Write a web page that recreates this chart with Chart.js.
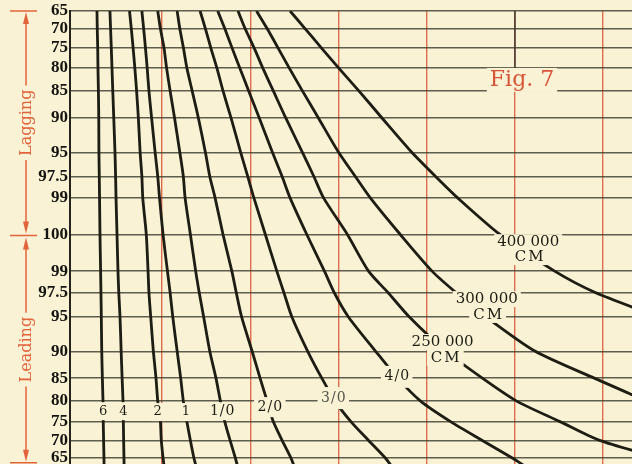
<!DOCTYPE html>
<html>
<head>
<meta charset="utf-8">
<script src="https://cdn.jsdelivr.net/npm/chart.js@4.4.1/dist/chart.umd.min.js"></script>
<style>
  html, body { margin: 0; padding: 0; background: #f9f2d5; }
  #wrap { width: 632px; height: 464px; }
</style>
</head>
<body>
<div id="wrap"><canvas id="fig7"></canvas></div>
<script>
// power factor rows, top to bottom
const lagging = [65, 70, 75, 80, 85, 90, 95, 97.5, 99];
const leading = [99, 97.5, 95, 90, 85, 80, 75, 70, 65];
const offSheet = 63; // curves run on past the last ruled line

const wireNames = ['6', '4', '2', '1', '1/0', '2/0', '3/0', '4/0', '250 000 CM', '300 000 CM', '400 000 CM'];

// horizontal position of each curve on every row (in grid columns)
const wire6   = [0.261, 0.264, 0.269, 0.272, 0.277, 0.281, 0.283, 0.287, 0.290, 0.295, 0.302, 0.306, 0.310, 0.315, 0.322, 0.329, 0.332, 0.336, 0.340, 0.341];
const wire4   = [0.408, 0.415, 0.423, 0.431, 0.440, 0.451, 0.465, 0.472, 0.477, 0.488, 0.499, 0.508, 0.522, 0.535, 0.546, 0.556, 0.560, 0.563, 0.567, 0.568];
const wire2   = [0.63, 0.65, 0.67, 0.69, 0.71, 0.73, 0.75, 0.77, 0.78, 0.82, 0.84, 0.85, 0.87, 0.90, 0.93, 0.95, 0.98, 0.99, 1.01, 1.02];
const wire1   = [0.77, 0.79, 0.81, 0.83, 0.85, 0.88, 0.92, 0.95, 0.97, 1.01, 1.06, 1.09, 1.12, 1.17, 1.21, 1.24, 1.28, 1.32, 1.36, 1.38];
const wire1_0 = [0.95, 0.98, 1.02, 1.05, 1.09, 1.14, 1.20, 1.24, 1.26, 1.32, 1.38, 1.42, 1.47, 1.54, 1.61, 1.66, 1.71, 1.77, 1.83, 1.85];
const wire2_0 = [1.17, 1.20, 1.24, 1.28, 1.34, 1.41, 1.49, 1.54, 1.60, 1.69, 1.79, 1.84, 1.90, 2.02, 2.11, 2.19, 2.26, 2.36, 2.46, 2.49];
const wire3_0 = [1.43, 1.49, 1.55, 1.62, 1.69, 1.78, 1.89, 1.97, 2.04, 2.17, 2.30, 2.38, 2.47, 2.65, 2.81, 2.96, 3.14, 3.34, 3.53, 3.59];
const wire4_0 = [1.63, 1.71, 1.79, 1.88, 1.98, 2.10, 2.25, 2.36, 2.45, 2.64, 2.84, 2.95, 3.11, 3.42, 3.67, 3.93, 4.27, 4.63, 4.97, 5.09];
const cm250   = [1.86, 1.94, 2.04, 2.14, 2.26, 2.40, 2.59, 2.72, 2.83, 3.10, 3.34, 3.56, 3.80, 4.22, 4.63, 5.02, 5.51, 5.96, 6.64, 6.93];
const cm300   = [2.07, 2.19, 2.31, 2.44, 2.59, 2.77, 3.00, 3.19, 3.36, 3.70, 4.06, 4.33, 4.67, 5.23, 5.90, 6.50, 7.10, null, null, null];
const cm400   = [2.45, 2.62, 2.80, 3.00, 3.23, 3.49, 3.83, 4.10, 4.35, 4.83, 5.45, 5.91, 6.62, null, null, null, null, null, null, null];

const columns = [1, 2, 3, 4, 5, 6];

const paper = '#f9f2d5';
const ink = '#1d1d14';
const redInk = '#e2643c';

// the sheet is ruled by phase angle: lagging above, leading below
const toAngle = pf => Math.acos(pf / 100) * 180 / Math.PI;
const rowAngles = [...lagging.map(toAngle), 0, ...leading.map(p => -toAngle(p)), -toAngle(offSheet)];
const tickAngles = rowAngles.slice(0, lagging.length + 1 + leading.length);
const tickLabels = [...lagging, 100, ...leading].map(String);

const curves = [wire6, wire4, wire2, wire1, wire1_0, wire2_0, wire3_0, wire4_0, cm250, cm300, cm400];

const datasets = curves.map((xs, i) => ({
    label: wireNames[i],
    data: xs.map((v, r) => v === null ? null : { x: v, y: rowAngles[r] }).filter(Boolean),
    showLine: true,
    borderColor: ink,
    borderWidth: 2.8,
    pointRadius: 0,
    tension: 0.25,
    fill: false
}));

// curve names, set into the curves on a patch of paper
const notes = [
    { text: '6',       x: 0.33, y: -39.1, size: 13, h: 18 },
    { text: '4',       x: 0.56, y: -39.1, size: 13, h: 18 },
    { text: '2',       x: 0.95, y: -39.3, size: 13, h: 18 },
    { text: '1',       x: 1.27, y: -39.3, size: 13, h: 18 },
    { text: '1/0',     x: 1.68, y: -39.1, size: 14, h: 18, spacing: 1 },
    { text: '2/0',     x: 2.22, y: -38.2, size: 14, h: 20, spacing: 1 },
    { text: '3/0',     x: 2.94, y: -36.2, size: 14, h: 22, spacing: 1, color: '#55554a' },
    { text: '4/0',     x: 3.66, y: -31.5, size: 14, h: 22, spacing: 1 },
    { text: '250 000', x: 4.18, y: -23.8, size: 15, h: 16 },
    { text: 'CM',      x: 4.21, y: -27.3, size: 15, h: 16, spacing: 2 },
    { text: '300 000', x: 4.68, y: -14.3, size: 15, h: 16 },
    { text: 'CM',      x: 4.69, y: -17.8, size: 15, h: 16, spacing: 2 },
    { text: '400 000', x: 5.15, y: -1.7,  size: 15, h: 16 },
    { text: 'CM',      x: 5.16, y: -5.0,  size: 15, h: 16, spacing: 2 },
    { text: 'Fig. 7',  x: 5.08, y: 34.2,  size: 22, h: 24, color: '#d8553a' }
];

const curveNotes = {
    id: 'curveNotes',
    afterDatasetsDraw(chart) {
        const { ctx, scales: { x, y } } = chart;
        ctx.save();
        ctx.textAlign = 'center';
        ctx.textBaseline = 'middle';
        notes.forEach(n => {
            ctx.font = n.size + 'px "DejaVu Serif"';
            ctx.letterSpacing = (n.spacing || 0) + 'px';
            const cx = x.getPixelForValue(n.x);
            const cy = y.getPixelForValue(n.y);
            const w = ctx.measureText(n.text).width + 6;
            ctx.fillStyle = paper;
            ctx.fillRect(cx - w / 2, cy - n.h / 2, w, n.h);
            ctx.fillStyle = n.color || ink;
            ctx.fillText(n.text, cx + (n.spacing || 0) / 2, cy);
        });
        // short dark leader at the top of the fifth column
        ctx.strokeStyle = '#3a3a30';
        ctx.lineWidth = 1.5;
        ctx.beginPath();
        ctx.moveTo(x.getPixelForValue(5), y.getPixelForValue(rowAngles[0]));
        ctx.lineTo(x.getPixelForValue(5), y.getPixelForValue(rowAngles[3]));
        ctx.stroke();
        ctx.restore();
    }
};

function arrowHead(ctx, x0, tip, dir) {
    ctx.beginPath();
    ctx.moveTo(x0, tip);
    ctx.lineTo(x0 - 3, tip + dir * 12);
    ctx.lineTo(x0 + 3, tip + dir * 12);
    ctx.closePath();
    ctx.fill();
}

function dimension(ctx, x0, yA, yB, label) {
    const mid = (yA + yB) / 2;
    ctx.font = '16px "DejaVu Serif"';
    const half = ctx.measureText(label).width / 2 + 4;
    ctx.beginPath();
    ctx.moveTo(x0, yA + 10);
    ctx.lineTo(x0, mid - half);
    ctx.moveTo(x0, mid + half);
    ctx.lineTo(x0, yB - 10);
    ctx.stroke();
    arrowHead(ctx, x0, yA + 1, 1);
    arrowHead(ctx, x0, yB - 1, -1);
    ctx.save();
    ctx.translate(x0 + 1, mid);
    ctx.rotate(-Math.PI / 2);
    ctx.textAlign = 'center';
    ctx.textBaseline = 'middle';
    ctx.fillText(label, 0, 0);
    ctx.restore();
}

const sideNotes = {
    id: 'sideNotes',
    afterDraw(chart) {
        const { ctx, scales: { y } } = chart;
        const top = y.getPixelForValue(rowAngles[0]);
        const mid = y.getPixelForValue(0);
        const bottom = y.getPixelForValue(-toAngle(offSheet)) - 2;
        const x0 = 26;
        ctx.save();
        ctx.strokeStyle = redInk;
        ctx.fillStyle = redInk;
        ctx.lineWidth = 1.5;
        ctx.beginPath();
        [top, mid + 1, bottom].forEach(v => { ctx.moveTo(10, v); ctx.lineTo(37, v); });
        ctx.stroke();
        dimension(ctx, x0, top, mid, 'Lagging');
        dimension(ctx, x0, mid + 2, bottom, 'Leading');
        ctx.restore();
    }
};

new Chart(document.getElementById('fig7'), {
    type: 'scatter',
    data: { datasets },
    options: {
        responsive: true,
        maintainAspectRatio: false,
        animation: false,
        layout: { padding: { top: 11, left: 0, right: 0, bottom: 0 } },
        plugins: { legend: { display: false }, tooltip: { enabled: false } },
        scales: {
            x: {
                type: 'linear',
                min: -0.045,
                max: 6.327,
                afterBuildTicks: s => { s.ticks = columns.map(v => ({ value: v })); },
                afterFit: s => { s.height = 0; s.paddingLeft = 0; s.paddingRight = 0; },
                ticks: { display: false },
                grid: { color: '#dd6d4d', lineWidth: 1.4, drawTicks: false },
                border: { display: false }
            },
            y: {
                type: 'linear',
                min: -50.79,
                max: toAngle(lagging[0]),
                afterBuildTicks: s => { s.ticks = tickAngles.map(v => ({ value: v })); },
                afterFit: s => { s.width = 70; s.paddingTop = 0; s.paddingBottom = 0; },
                ticks: {
                    autoSkip: false,
                    padding: 2,
                    color: '#141410',
                    font: { family: '"Liberation Serif"', size: 17, weight: 'bold' },
                    callback: (value, index) => tickLabels[index]
                },
                grid: { color: 'rgba(68, 68, 52, 0.85)', lineWidth: 1.5, drawTicks: false },
                border: { display: true, color: '#24241c', width: 2 }
            }
        }
    },
    plugins: [curveNotes, sideNotes]
});
</script>
</body>
</html>
